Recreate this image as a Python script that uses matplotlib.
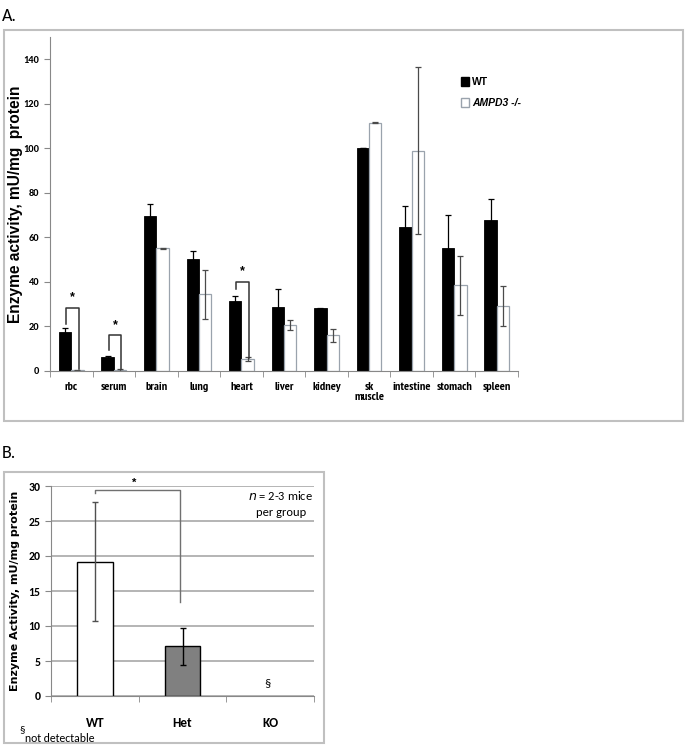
import numpy as np
import matplotlib
matplotlib.use('Agg')
import matplotlib.pyplot as plt
from matplotlib import font_manager as fm
from matplotlib.patches import Rectangle, Patch

plt.rcParams['font.family'] = ['Liberation Sans', 'DejaVu Sans']


def pick(cands, bold=False):
    # first installed family from the list (with a real bold face if asked)
    for c in cands:
        try:
            path = fm.findfont(fm.FontProperties(family=c, weight='bold' if bold else 'normal'),
                               fallback_to_default=False)
        except ValueError:
            continue
        if bold and 'bold' not in fm.get_font(path).style_name.lower():
            continue
        return c
    return 'Liberation Sans'


NARROW = pick(['Liberation Sans Narrow', 'Arial Narrow', 'Archivo Narrow',
               'PT Sans Narrow', 'Roboto Condensed', 'Encode Sans Condensed',
               'Barlow Semi Condensed', 'Liberation Sans'], bold=True)
CALIBRI = pick(['Carlito', 'Lato'])

# panel A data
tissues = ['rbc', 'serum', 'brain', 'lung', 'heart', 'liver', 'kidney',
           'sk\nmuscle', 'intestine', 'stomach', 'spleen']
wt_vals = [17.5, 6.3, 69.5, 50.5, 31.5, 28.8, 28.2, 100.0, 64.5, 55.2, 68.0]
wt_err = [2.0, 0.5, 5.5, 3.5, 2.0, 8.0, 0.3, 0.0, 9.5, 15.0, 9.3]
ko_vals = [0.4, 0.5, 55.2, 34.5, 5.3, 20.5, 16.0, 111.5, 99.0, 38.5, 29.0]
ko_err = [0.2, 0.3, 0.2, 11.0, 1.0, 2.3, 2.8, 0.2, 37.5, 13.3, 9.0]

# significance brackets: (index, left bottom, top, right bottom)
brackets_a = [(0, 21.0, 28.5, 1.0), (1, 9.5, 16.0, 1.0), (4, 37.0, 40.0, 6.0)]

# panel B data
genotypes = ['WT', 'Het', 'KO']
geno_vals = [19.2, 7.1, 0.0]
geno_err = [8.5, 2.65, 0.0]
geno_colors = ['white', '#808080', 'white']
geno_edges = ['black', 'black', 'none']
geno_ecolors = ['#505050', 'black', 'black']

W, H = 687, 748
fig = plt.figure(figsize=(W / 100, H / 100), dpi=100)


def px_rect(x0, y0, x1, y1):
    return [x0 / W, 1 - y1 / H, (x1 - x0) / W, (y1 - y0) / H]


# panel frames
for x0, y0, x1, y1 in [(4, 30, 683, 421), (4, 472, 324, 743)]:
    fig.patches.append(Rectangle((x0 / W, 1 - y1 / H), (x1 - x0) / W, (y1 - y0) / H,
                                 transform=fig.transFigure, fill=False,
                                 edgecolor='#c0c0c0', lw=1.5))

fig.text(2 / W, 1 - 16 / H, 'A.', fontsize=13, family=CALIBRI, va='center', ha='left')
fig.text(2 / W, 1 - 453 / H, 'B.', fontsize=13, family=CALIBRI, va='center', ha='left')

# ---- panel A ----
ax = fig.add_axes(px_rect(50, 37, 518, 371))
x = np.arange(len(tissues))
bw = 0.29
ax.bar(x - bw / 2, wt_vals, bw, color='black', edgecolor='black', lw=0.6)
ax.bar(x + bw / 2, ko_vals, bw, color='white', edgecolor='#9aa3ad', lw=0.9)
ax.errorbar(x - bw / 2, wt_vals, yerr=wt_err, fmt='none', ecolor='black',
            elinewidth=0.9, capsize=2.5, capthick=0.9)
ax.errorbar(x + bw / 2, ko_vals, yerr=ko_err, fmt='none', ecolor='#4a4a4a',
            elinewidth=0.9, capsize=2.5, capthick=0.9)

for i, lb, top, rb in brackets_a:
    xl, xr = i - 0.12, i + 0.17
    ax.plot([xl, xl, xr, xr], [lb, top, top, rb], color='#333333', lw=1.1)
    ax.text((xl + xr) / 2, top + 2.0, '*', ha='center', va='bottom',
            fontsize=9, fontweight='bold')

ax.set_xlim(-0.5, len(tissues) - 0.5)
ax.set_ylim(0, 150)
ax.set_yticks(np.arange(0, 141, 20))
ax.set_xticks(x)
ax.set_xticklabels(tissues, fontsize=8.7, family=NARROW, fontweight='bold',
                   linespacing=1.0)
ax.set_xticks(np.arange(-0.5, len(tissues)), minor=True)
ax.tick_params(axis='x', which='major', length=0, pad=8)
ax.tick_params(axis='x', which='minor', length=4, color='#888888')
ax.tick_params(axis='y', labelsize=7.5, length=4, color='#888888')
for lab in ax.get_yticklabels():
    lab.set_family(CALIBRI)
    lab.set_fontweight('bold')
ax.spines['top'].set_visible(False)
ax.spines['right'].set_visible(False)
ax.spines['left'].set_color('#888888')
ax.spines['bottom'].set_color('#888888')
ax.set_ylabel('Enzyme activity, mU/mg  protein', fontsize=11.2,
              fontweight='bold')
ax.yaxis.set_label_coords(-0.058, 0.5)

handles = [Patch(facecolor='black', edgecolor='black', label='WT'),
           Patch(facecolor='white', edgecolor='#9aa3ad', label='AMPD3 -/-')]
leg = ax.legend(handles=handles, loc='upper left', frameon=False,
                bbox_to_anchor=(452 / W, 1 - 68 / H), bbox_transform=fig.transFigure,
                handlelength=0.7, handleheight=0.9, handletextpad=0.3,
                labelspacing=1.0,
                prop={'size': 7.5, 'weight': 'bold', 'family': 'Liberation Sans'})
leg.get_texts()[1].set_fontstyle('italic')

# ---- panel B ----
bx = fig.add_axes(px_rect(51, 486, 314, 696))
xb = np.arange(len(genotypes))
bx.yaxis.grid(True, color='#a8a8a8', lw=1.2)
bx.set_axisbelow(True)
bx.bar(xb, geno_vals, 0.41, color=geno_colors, edgecolor=geno_edges, lw=1.0)
for xi, v, e, ec in zip(xb[:2], geno_vals[:2], geno_err[:2], geno_ecolors[:2]):
    bx.errorbar(xi, v, yerr=e, fmt='none', ecolor=ec, elinewidth=1.0,
                capsize=2.5, capthick=1.0)
bx.plot([0, 0, 0.97, 0.97], [29.0, 29.5, 29.5, 13.5], color='#707070', lw=1.0,
        clip_on=False)
bx.text(0.45, 29.8, '*', ha='center', va='bottom', fontsize=8, fontweight='bold')
bx.text(1.97, 1.0, '§', ha='center', va='bottom', fontsize=9, family=CALIBRI)
bx.text(2.12, 28.7, r'$\it{n}$ = 2-3 mice', ha='center', va='center',
        fontsize=9, family=CALIBRI)
bx.text(2.12, 26.2, 'per group', ha='center', va='center', fontsize=9,
        family=CALIBRI)

bx.set_xlim(-0.5, len(genotypes) - 0.5)
bx.set_ylim(0, 30)
bx.set_yticks(np.arange(0, 31, 5))
bx.set_xticks(xb)
bx.set_xticklabels(genotypes, fontsize=9.5, family=CALIBRI, fontweight='bold')
bx.set_xticks(np.arange(-0.5, len(genotypes)), minor=True)
bx.tick_params(axis='x', which='major', length=0, pad=15)
bx.tick_params(axis='x', which='minor', length=4, color='#888888')
bx.tick_params(axis='y', labelsize=8.5, length=4, color='#888888')
for lab in bx.get_yticklabels():
    lab.set_family(CALIBRI)
    lab.set_fontweight('bold')
bx.spines['top'].set_visible(False)
bx.spines['right'].set_visible(False)
bx.spines['left'].set_color('#888888')
bx.spines['bottom'].set_color('#888888')
bx.set_ylabel('Enzyme Activity, mU/mg protein', fontsize=8,
              fontweight='bold', family='DejaVu Sans', labelpad=6)

fig.text(19 / W, 1 - 730 / H, '§', fontsize=8, family=CALIBRI, ha='left', va='center')
fig.text(25 / W, 1 - 738 / H, 'not detectable', fontsize=8.5, family=CALIBRI,
         ha='left', va='center')

fig.savefig('out.png', dpi=100)
